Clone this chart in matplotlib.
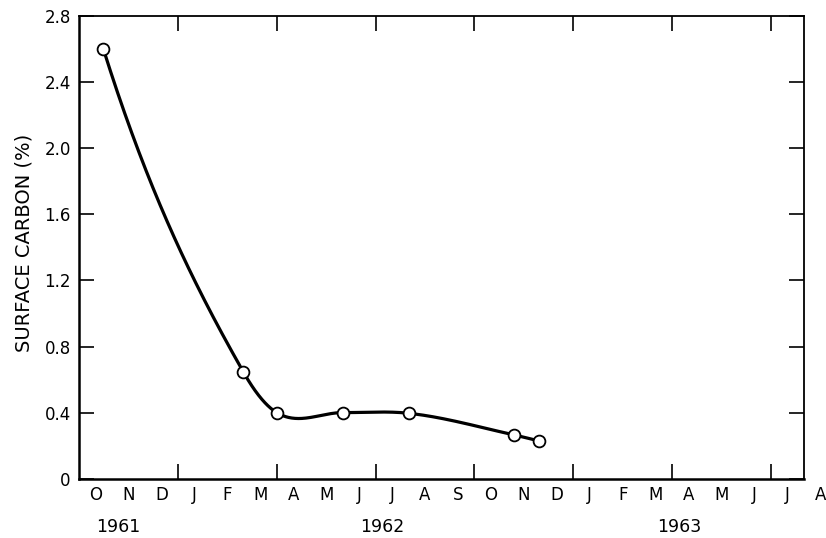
import numpy as np
import matplotlib
matplotlib.use("Agg")
import matplotlib.pyplot as plt
import matplotlib.transforms as mtransforms

# Data: x = months elapsed since 1 Oct 1961, y = surface carbon (%)
months_since_oct1961 = [0.74, 4.99, 6.0, 8.0, 10.0, 13.2, 13.97]
surface_carbon = [2.60, 0.645, 0.40, 0.40, 0.396, 0.265, 0.228]

month_labels = ["O", "N", "D", "J", "F", "M", "A", "M", "J", "J", "A", "S",
                "O", "N", "D", "J", "F", "M", "A", "M", "J", "J", "A"]
year_labels = ["1961", "1962", "1963"]
year_label_pos = [1.2, 9.2, 18.2]
quarter_ticks = [3, 6, 9, 12, 15, 18, 21]
y_ticks = [0, 0.4, 0.8, 1.2, 1.6, 2.0, 2.4, 2.8]
y_ticklabels = ["0", "0.4", "0.8", "1.2", "1.6", "2.0", "2.4", "2.8"]


def hermite_smooth(x, y, n_per_seg=80):
    """Smooth curve through the points (cubic Hermite, Catmull-Rom slopes)."""
    x = np.asarray(x, float)
    y = np.asarray(y, float)
    h = np.diff(x)
    d = np.diff(y) / h
    m = np.empty_like(y)
    m[1:-1] = 0.5 * (d[:-1] + d[1:])
    m[0] = ((2 * h[0] + h[1]) * d[0] - h[0] * d[1]) / (h[0] + h[1])
    m[-1] = d[-1]
    xs_all, ys_all = [], []
    for i in range(len(x) - 1):
        t = np.linspace(0, 1, n_per_seg)
        h00 = 2 * t**3 - 3 * t**2 + 1
        h10 = t**3 - 2 * t**2 + t
        h01 = -2 * t**3 + 3 * t**2
        h11 = t**3 - t**2
        yy = h00 * y[i] + h10 * h[i] * m[i] + h01 * y[i + 1] + h11 * h[i] * m[i + 1]
        xs_all.append(x[i] + t * h[i])
        ys_all.append(yy)
    return np.concatenate(xs_all), np.concatenate(ys_all)


plt.rcParams["font.family"] = ["DejaVu Sans"]

fig = plt.figure(figsize=(8.26, 5.38), dpi=100)
ax = fig.add_axes([79 / 826, 59.3 / 538, (804 - 79) / 826, (478.7 - 16) / 538])

xs, ys = hermite_smooth(months_since_oct1961, surface_carbon)
ax.plot(xs, ys, color="black", lw=2.3, solid_capstyle="round", zorder=2)
ax.plot(months_since_oct1961, surface_carbon, "o", ms=8.5, mfc="white",
        mec="black", mew=1.3, zorder=3)

ax.set_xlim(0, 22)
ax.set_ylim(0, 2.8)

ax.set_xticks(quarter_ticks)
ax.set_xticklabels([])
ax.set_yticks(y_ticks)
ax.set_yticklabels(y_ticklabels, fontsize=12)
ax.tick_params(axis="both", which="major", direction="in", length=11,
               width=1.2, color="black", top=True, right=True)
ax.tick_params(axis="y", pad=6)

for side in ["left", "bottom"]:
    ax.spines[side].set_linewidth(1.8)
for side in ["top", "right"]:
    ax.spines[side].set_linewidth(1.3)

trans = mtransforms.blended_transform_factory(ax.transData, ax.transAxes)
for i, lab in enumerate(month_labels):
    ax.text(i + 0.5, -0.036, lab, transform=trans, ha="center", va="center",
            fontsize=12, clip_on=False)
for pos, lab in zip(year_label_pos, year_labels):
    ax.text(pos, -0.104, lab, transform=trans, ha="center", va="center",
            fontsize=12.5, clip_on=False)

fig.text(24 / 826, 1 - 243 / 538, "SURFACE CARBON (%)", rotation=90,
         ha="center", va="center", fontsize=14)

fig.savefig("out.png", dpi=100)
